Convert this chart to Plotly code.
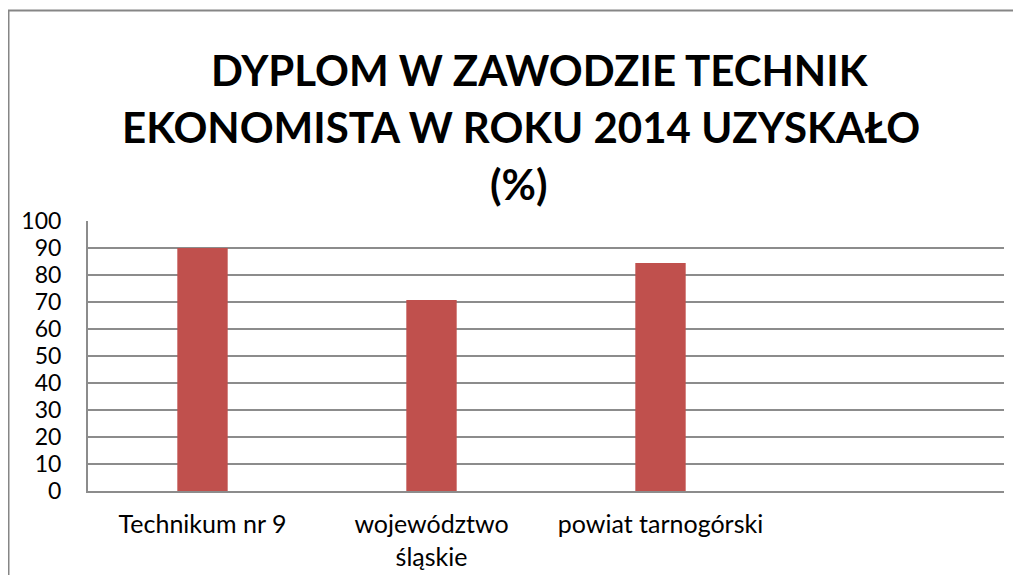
import plotly.graph_objects as go

categories = ["Technikum nr 9", "województwo<br>śląskie", "powiat tarnogórski", " "]
values = [90, 70.7, 84.4, None]
y_ticks = list(range(0, 101, 10))
title_lines = ["DYPLOM W ZAWODZIE TECHNIK", "EKONOMISTA W ROKU 2014 UZYSKAŁO", "(%)"]

bar_color = "#C0504D"
grid_color = "#8C8C8C"
font_family = "Lato, Open Sans, sans-serif"

# page body has an 8px margin, so work in figure pixels = screen pixels - 8
W, H = 1013, 567
L, R, T, B = 80, 17, 213, 84
plot_w = W - L - R
plot_h = H - T - B


def px_to_paper(x, y):
    return (x - L) / plot_w, (H - B - y) / plot_h


fig = go.Figure()
fig.add_trace(go.Bar(
    x=categories,
    y=values,
    marker=dict(color=bar_color, line=dict(width=0)),
    width=0.22,
    showlegend=False,
))

annotations = []
for line, cx, cy in zip(title_lines, [532, 513, 510], [62, 119, 176]):
    ax, ay = px_to_paper(cx, cy)
    annotations.append(dict(
        text="<b>%s</b>" % line,
        x=ax, y=ay, xref="paper", yref="paper",
        xanchor="center", yanchor="middle",
        showarrow=False,
        font=dict(size=42, family=font_family, color="black"),
    ))

bx0, by1 = px_to_paper(0.5, 2.5)

fig.update_layout(
    width=W,
    height=H,
    margin=dict(l=L, r=R, t=T, b=B),
    paper_bgcolor="white",
    plot_bgcolor="white",
    font=dict(family=font_family, color="black"),
    annotations=annotations,
    xaxis=dict(
        type="category",
        categoryorder="array",
        categoryarray=categories,
        automargin=False,
        showline=True,
        linecolor=grid_color,
        linewidth=2,
        showgrid=False,
        ticks="outside",
        ticklen=10,
        tickcolor="rgba(0,0,0,0)",
        tickfont=dict(size=25, family=font_family, color="black"),
    ),
    yaxis=dict(
        range=[0, 100],
        tickvals=y_ticks,
        automargin=False,
        showline=True,
        linecolor=grid_color,
        linewidth=2,
        showgrid=True,
        gridcolor=grid_color,
        gridwidth=2,
        zeroline=False,
        ticks="",
        ticklabelstandoff=20,
        tickfont=dict(size=23, family=font_family, color="black"),
    ),
    shapes=[
        dict(
            type="rect",
            xref="paper", yref="paper",
            x0=bx0, x1=1.2,
            y0=-0.6, y1=by1,
            line=dict(color="#868686", width=2),
            fillcolor="rgba(0,0,0,0)",
            layer="below",
        )
    ],
)

fig.write_html("out.html")
